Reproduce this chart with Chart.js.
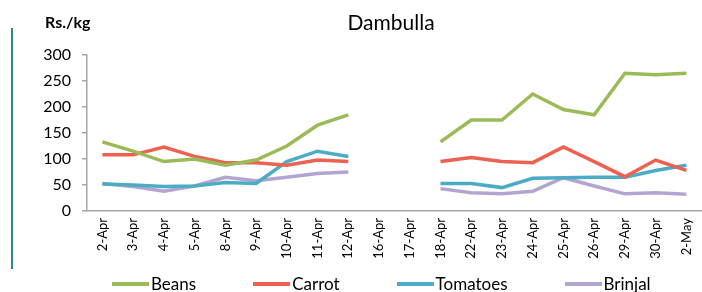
<!DOCTYPE html>
<html>
<head>
<meta charset="utf-8">
<script src="https://cdn.jsdelivr.net/npm/chart.js@4.4.0/dist/chart.umd.min.js"></script>
<style>
  html, body { margin: 0; padding: 0; background: #fff; overflow: hidden; }
  #wrap { position: relative; width: 702px; height: 292px; overflow: hidden; font-family: Lato, sans-serif; }
  #chart { position: absolute; left: 0; top: 0; }
  #rule { position: absolute; left: 11px; top: 28px; width: 2px; height: 241px; background: #31849b; }
  #title { position: absolute; left: 291px; width: 200px; top: 9px; text-align: center; font-size: 21px; color: #000; }
  #unit { position: absolute; left: 45px; top: 12px; font-size: 16px; font-weight: bold; color: #000; }
  #legend { position: absolute; left: 112px; top: 274px; height: 20px; display: flex; align-items: center; font-size: 17px; line-height: 20px; color: #000; white-space: nowrap; }
  #legend .item { display: flex; align-items: center; margin-right: 57px; }
  #legend .swatch { width: 37px; height: 4px; margin-right: 2px; }
</style>
</head>
<body>
<div id="wrap">
  <canvas id="chart" width="709" height="292"></canvas>
  <div id="rule"></div>
  <div id="title">Dambulla</div>
  <div id="unit">Rs./kg</div>
  <div id="legend"></div>
</div>
<script>
const dates = ['2-Apr', '3-Apr', '4-Apr', '5-Apr', '8-Apr', '9-Apr', '10-Apr', '11-Apr', '12-Apr',
  '16-Apr', '17-Apr', '18-Apr', '22-Apr', '23-Apr', '24-Apr', '25-Apr', '26-Apr', '29-Apr', '30-Apr', '2-May'];

const beans    = [133, 115, 95, 100, 88, 98, 125, 165, 185, null, null, 133, 175, 175, 225, 195, 185, 265, 262, 265];
const carrot   = [108, 108, 123, 105, 93, 93, 88, 98, 95, null, null, 95, 103, 95, 93, 123, 95, 66, 98, 78];
const tomatoes = [52, 50, 47, 48, 55, 53, 95, 115, 105, null, null, 53, 53, 45, 63, 64, 65, 65, 78, 88];
const brinjal  = [53, 47, 38, 48, 65, 58, 65, 72, 75, null, null, 43, 35, 33, 38, 64, 48, 33, 35, 32];

const seriesNames = ['Beans', 'Carrot', 'Tomatoes', 'Brinjal'];
const seriesColors = ['#9bbb59', '#ec6150', '#4bacc6', '#b4a5d0'];
const yTicks = [0, 50, 100, 150, 200, 250, 300];

const axisGrey = '#a6a6a6';

let datasets = [beans, carrot, tomatoes, brinjal].map((values, i) => ({
  label: seriesNames[i],
  data: values,
  borderColor: seriesColors[i],
  backgroundColor: seriesColors[i],
  borderWidth: 3.5,
  pointRadius: 0,
  tension: 0,
  spanGaps: false
}));

let options = {
  responsive: false,
  animation: false,
  layout: { padding: { left: 0, top: 55, right: 0, bottom: 25 } },
  plugins: {
    legend: { display: false },
    title: { display: false },
    tooltip: { enabled: false }
  },
  scales: {
    x: {
      offset: true,
      grid: { display: false, drawTicks: false },
      border: { color: axisGrey, width: 1.5 },
      ticks: {
        color: '#000',
        font: { family: 'Lato', size: 13 },
        minRotation: 90,
        maxRotation: 90,
        autoSkip: false,
        padding: 7
      },
      afterFit: (scale) => { scale.height = 56; }
    },
    y: {
      min: yTicks[0],
      max: yTicks[yTicks.length - 1],
      afterBuildTicks: (scale) => { scale.ticks = yTicks.map(v => ({ value: v })); },
      grid: { drawOnChartArea: false, tickLength: 5, color: axisGrey, lineWidth: 1.5 },
      border: { color: axisGrey, width: 1.5 },
      ticks: {
        color: '#000',
        font: { family: 'Lato', size: 16 },
        padding: 11
      },
      afterFit: (scale) => { scale.width = 87; }
    }
  }
};

const chart = new Chart('chart', { type: 'line', data: { labels: dates, datasets }, options });

// legend built from the chart's datasets
const legend = document.getElementById('legend');
chart.data.datasets.forEach((ds) => {
  const item = document.createElement('span');
  item.className = 'item';
  const sw = document.createElement('span');
  sw.className = 'swatch';
  sw.style.background = ds.borderColor;
  const txt = document.createElement('span');
  txt.textContent = ds.label;
  item.appendChild(sw);
  item.appendChild(txt);
  legend.appendChild(item);
});
</script>
</body>
</html>
